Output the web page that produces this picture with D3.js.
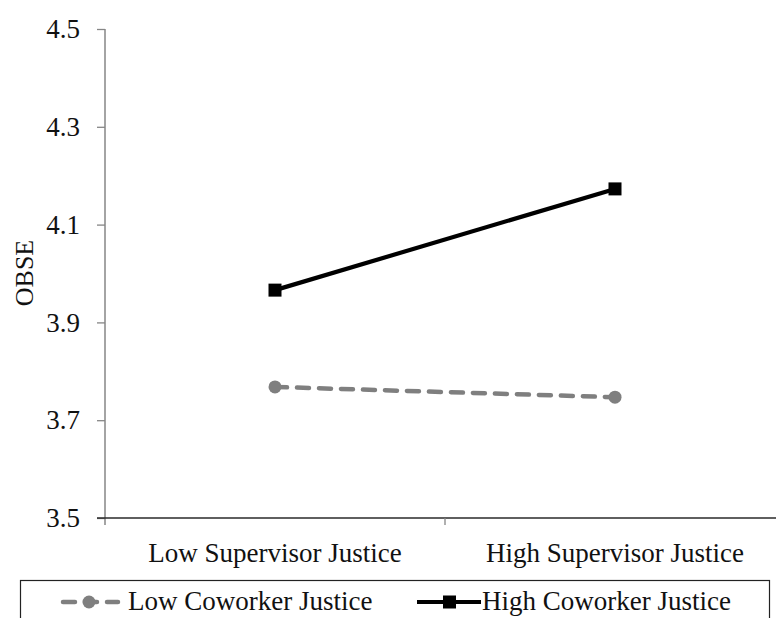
<!DOCTYPE html>
<html>
<head>
<meta charset="utf-8">
<script src="https://cdn.jsdelivr.net/npm/d3@7"></script>
<style>
  html, body { margin: 0; padding: 0; background: #fff; }
  svg { display: block; font-family: "Liberation Serif", "Times New Roman", serif; }
</style>
</head>
<body>
<svg id="chart" width="776" height="618"></svg>
<script>
const categories = ["Low Supervisor Justice", "High Supervisor Justice"];
const seriesNames = ["Low Coworker Justice", "High Coworker Justice"];
const lowCoworker = [3.768, 3.747];
const highCoworker = [3.966, 4.173];
const yTicks = [3.5, 3.7, 3.9, 4.1, 4.3, 4.5];
const yLabel = "OBSE";

const svg = d3.select("#chart");
const fontSize = 27;

const x = d3.scaleBand().domain(categories).range([105, 785]).padding(0);
const y = d3.scaleLinear().domain([3.5, 4.5]).range([518, 29]);

// Y axis
const yAxis = d3.axisLeft(y).tickValues(yTicks).tickFormat(d3.format(".1f")).tickSize(8).tickPadding(17);
const gy = svg.append("g").attr("transform", "translate(105,0)").call(yAxis);
gy.select(".domain").remove();
gy.selectAll(".tick line").attr("stroke", "#868686").attr("stroke-width", 1.3);
gy.selectAll(".tick text").attr("font-size", fontSize).attr("font-family", "Liberation Serif").attr("fill", "#111");
gy.append("line").attr("x1", 0).attr("x2", 0).attr("y1", y(4.5)).attr("y2", y(3.5) + 7)
  .attr("stroke", "#868686").attr("stroke-width", 1.5);

// X axis
const gx = svg.append("g").attr("transform", "translate(0,518)");
gx.append("line").attr("x1", x.range()[0] - 8).attr("x2", x.range()[1]).attr("y1", 0).attr("y2", 0)
  .attr("stroke", "#2a2a2a").attr("stroke-width", 1.3);
const boundaries = categories.map(c => x(c)).concat([x(categories[categories.length - 1]) + x.bandwidth()]);
gx.selectAll(".btick").data(boundaries.slice(1)).join("line")
  .attr("x1", d => d).attr("x2", d => d).attr("y1", 0).attr("y2", 7)
  .attr("stroke", "#868686").attr("stroke-width", 1.3);
gx.selectAll(".xlabel").data(categories).join("text")
  .attr("x", d => x(d) + x.bandwidth() / 2).attr("y", 44)
  .attr("text-anchor", "middle").attr("font-size", fontSize).attr("fill", "#111")
  .text(d => d);

// Y label
svg.append("text").attr("transform", "translate(33,273) rotate(-90)")
  .attr("text-anchor", "middle").attr("font-size", 26).attr("fill", "#111").text(yLabel);

const cx = d => x(d) + x.bandwidth() / 2;

// Low coworker line
const lowData = categories.map((c, i) => ({c, v: lowCoworker[i]}));
const highData = categories.map((c, i) => ({c, v: highCoworker[i]}));
const line = d3.line().x(d => cx(d.c)).y(d => y(d.v));
const gray = "#7f7f7f";

svg.append("path").datum(lowData).attr("d", line).attr("fill", "none")
  .attr("stroke", gray).attr("stroke-width", 4.5).attr("stroke-dasharray", "12,10")
  .attr("stroke-linecap", "round");
svg.selectAll(".lowpt").data(lowData).join("circle")
  .attr("cx", d => cx(d.c)).attr("cy", d => y(d.v)).attr("r", 6.5).attr("fill", gray);

svg.append("path").datum(highData).attr("d", line).attr("fill", "none")
  .attr("stroke", "#000").attr("stroke-width", 4.2);
svg.selectAll(".highpt").data(highData).join("rect")
  .attr("x", d => cx(d.c) - 6.5).attr("y", d => y(d.v) - 6.5)
  .attr("width", 13).attr("height", 13).attr("fill", "#000");

// Legend
const lg = svg.append("g");
lg.append("rect").attr("x", 20.5).attr("y", 580.5).attr("width", 749).attr("height", 60)
  .attr("fill", "none").attr("stroke", "#222").attr("stroke-width", 1.2);
const ly = 602;
// low
lg.append("line").attr("x1", 62).attr("x2", 118).attr("y1", ly).attr("y2", ly)
  .attr("stroke", gray).attr("stroke-width", 4.5).attr("stroke-dasharray", "12,10")
  .attr("stroke-dashoffset", -1).attr("stroke-linecap", "round");
lg.append("circle").attr("cx", 89).attr("cy", ly).attr("r", 6.5).attr("fill", gray);
lg.append("text").attr("x", 128).attr("y", 610).attr("font-size", fontSize).attr("fill", "#111").text(seriesNames[0]);
// high
lg.append("line").attr("x1", 417).attr("x2", 481).attr("y1", ly).attr("y2", ly)
  .attr("stroke", "#000").attr("stroke-width", 4.2);
lg.append("rect").attr("x", 443).attr("y", ly - 6.5).attr("width", 13).attr("height", 13).attr("fill", "#000");
lg.append("text").attr("x", 482).attr("y", 610).attr("font-size", fontSize).attr("fill", "#111").text(seriesNames[1]);
</script>
</body>
</html>
